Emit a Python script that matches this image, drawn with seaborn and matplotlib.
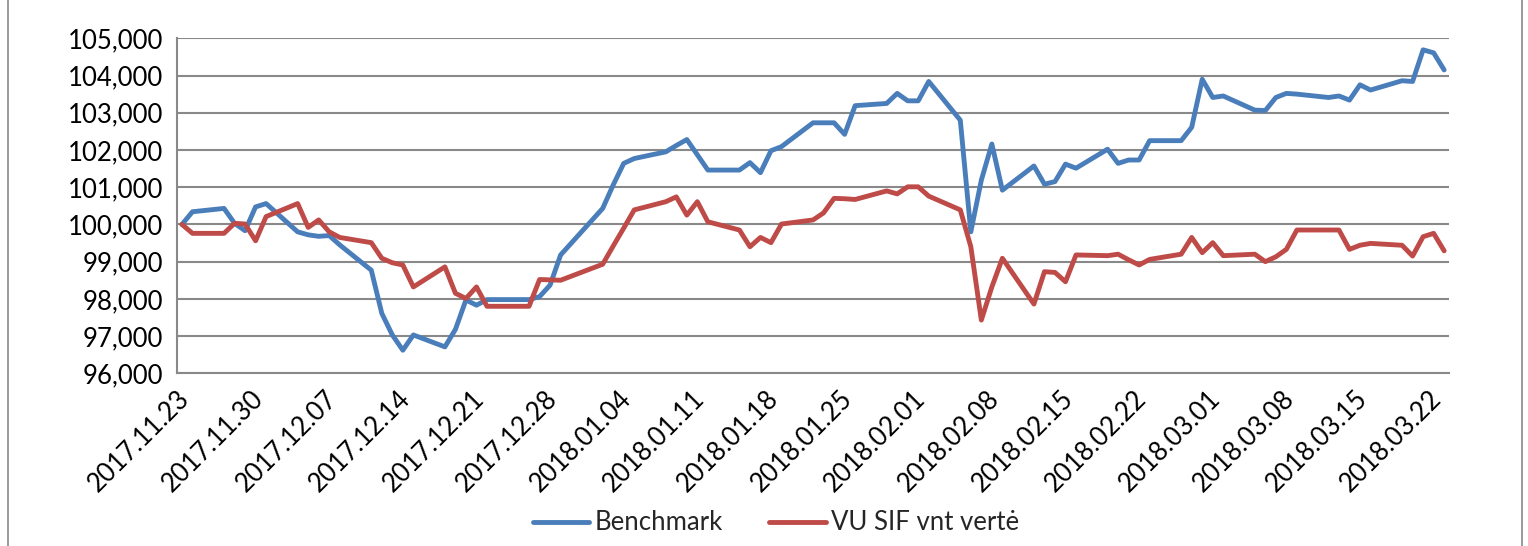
import numpy as np
import pandas as pd
import matplotlib
matplotlib.use("Agg")
import matplotlib.pyplot as plt
import matplotlib.dates as mdates
from matplotlib.ticker import FuncFormatter, FixedLocator
from matplotlib.lines import Line2D
import seaborn as sns

# ---------------- data ----------------
dates = [
    "2017-11-23", "2017-11-24", "2017-11-27", "2017-11-28", "2017-11-29", "2017-11-30",
    "2017-12-01", "2017-12-04", "2017-12-05", "2017-12-06", "2017-12-07", "2017-12-08",
    "2017-12-11", "2017-12-12", "2017-12-13", "2017-12-14", "2017-12-15", "2017-12-18",
    "2017-12-19", "2017-12-20", "2017-12-21", "2017-12-22", "2017-12-26", "2017-12-27",
    "2017-12-28", "2017-12-29", "2018-01-02", "2018-01-03", "2018-01-04", "2018-01-05",
    "2018-01-08", "2018-01-09", "2018-01-10", "2018-01-11", "2018-01-12", "2018-01-15",
    "2018-01-16", "2018-01-17", "2018-01-18", "2018-01-19", "2018-01-22", "2018-01-23",
    "2018-01-24", "2018-01-25", "2018-01-26", "2018-01-29", "2018-01-30", "2018-01-31",
    "2018-02-01", "2018-02-02", "2018-02-05", "2018-02-06", "2018-02-07", "2018-02-08",
    "2018-02-09", "2018-02-12", "2018-02-13", "2018-02-14", "2018-02-15", "2018-02-16",
    "2018-02-19", "2018-02-20", "2018-02-21", "2018-02-22", "2018-02-23", "2018-02-26",
    "2018-02-27", "2018-02-28", "2018-03-01", "2018-03-02", "2018-03-05", "2018-03-06",
    "2018-03-07", "2018-03-08", "2018-03-09", "2018-03-12", "2018-03-13", "2018-03-14",
    "2018-03-15", "2018-03-16", "2018-03-19", "2018-03-20", "2018-03-21", "2018-03-22",
    "2018-03-23",
]

benchmark = [
    100.00, 100.34, 100.43, 100.03, 99.83, 100.47,
    100.56, 99.80, 99.72, 99.68, 99.70, 99.45,
    98.77, 97.61, 97.03, 96.62, 97.03, 96.71,
    97.18, 97.97, 97.83, 97.98, 97.98, 98.06,
    98.37, 99.18, 100.43, 101.06, 101.64, 101.77,
    101.95, 102.12, 102.28, 101.87, 101.46, 101.46,
    101.66, 101.39, 101.98, 102.09, 102.73, 102.73,
    102.73, 102.42, 103.19, 103.25, 103.52, 103.32,
    103.32, 103.84, 102.80, 99.80, 101.19, 102.16,
    100.92, 101.57, 101.08, 101.15, 101.62, 101.51,
    102.02, 101.64, 101.73, 101.73, 102.25, 102.25,
    102.61, 103.90, 103.41, 103.45, 103.07, 103.06,
    103.41, 103.52, 103.50, 103.41, 103.45, 103.34,
    103.75, 103.61, 103.86, 103.84, 104.69, 104.61,
    104.15,
]

vu_sif = [
    100.00, 99.76, 99.76, 100.03, 100.01, 99.56,
    100.21, 100.56, 99.92, 100.12, 99.80, 99.65,
    99.51, 99.09, 98.97, 98.91, 98.32, 98.86,
    98.15, 98.01, 98.32, 97.80, 97.80, 98.52,
    98.51, 98.50, 98.93, 99.42, 99.90, 100.39,
    100.61, 100.74, 100.25, 100.61, 100.07, 99.85,
    99.40, 99.65, 99.51, 100.01, 100.12, 100.31,
    100.70, 100.69, 100.67, 100.90, 100.82, 101.01,
    101.01, 100.76, 100.39, 99.40, 97.43, 98.32,
    99.09, 97.86, 98.73, 98.71, 98.46, 99.18,
    99.16, 99.20, 99.05, 98.91, 99.06, 99.20,
    99.65, 99.24, 99.51, 99.16, 99.20, 99.00,
    99.13, 99.33, 99.85, 99.85, 99.85, 99.33,
    99.44, 99.49, 99.44, 99.15, 99.67, 99.76,
    99.29,
]

series_names = ["Benchmark", "VU SIF vnt vertė"]
series_colors = ["#4A7EBB", "#BE4B48"]
tick_dates = pd.date_range("2017-11-23", "2018-03-22", freq="7D")
y_ticks = [96, 97, 98, 99, 100, 101, 102, 103, 104, 105]

# ---------------- figure ----------------
W, H, DPI = 1528, 546, 100
sns.set_style("white")
FONT = ["Lato", "DejaVu Sans"]
plt.rcParams["font.family"] = FONT
FS = 18.5
LW = 3.5

fig = plt.figure(figsize=(W / DPI, H / DPI), dpi=DPI)
ax = fig.add_axes([176.7 / W, 1 - 373.3 / H, (1449.4 - 176.7) / W, (373.3 - 38.3) / H])

x = pd.to_datetime(dates)
df = pd.DataFrame({"date": x, series_names[0]: benchmark, series_names[1]: vu_sif})
for name, col in zip(series_names, series_colors):
    sns.lineplot(data=df, x="date", y=name, ax=ax, color=col, linewidth=LW,
                 solid_joinstyle="round", solid_capstyle="round", legend=False)

half = pd.Timedelta(hours=12)
ax.set_xlim(x[0] - half, x[-1] + half)
ax.set_ylim(96, 105)

ax.xaxis.set_major_locator(FixedLocator(mdates.date2num(tick_dates - half)))
ax.set_xticklabels([d.strftime("%Y.%m.%d") for d in tick_dates], rotation=45,
                   ha="right", va="top", rotation_mode="anchor", fontsize=FS)
ax.set_yticks(y_ticks)
ax.yaxis.set_major_formatter(FuncFormatter(lambda v, p: f"{v:,.3f}".replace(".", ",")))
for lab in ax.get_yticklabels():
    lab.set_fontsize(FS)

ax.set_xlabel("")
ax.set_ylabel("")
ax.grid(axis="y", color="#898989", linewidth=1.5)
ax.grid(axis="x", visible=False)
ax.set_axisbelow(True)
for s in ["top", "right"]:
    ax.spines[s].set_visible(False)
for s in ["left", "bottom"]:
    ax.spines[s].set_color("#898989")
    ax.spines[s].set_linewidth(1.5)
ax.tick_params(axis="both", direction="out", length=5, width=1.5, color="#898989",
               labelcolor="black")
ax.tick_params(axis="y", pad=5)
ax.tick_params(axis="x", pad=4)

handles = [Line2D([0], [0], color=c, linewidth=LW) for c in series_colors]
fig.legend(handles, series_names, loc="center", bbox_to_anchor=(776 / W, 23 / H),
           ncol=2, frameon=False, fontsize=FS, handlelength=2.2, handletextpad=0.2,
           columnspacing=1.8)

# outer chart border (left and right edges visible)
fig.add_artist(Line2D([7.5 / W, 7.5 / W], [0, 1], color="#898989", linewidth=1.2))
fig.add_artist(Line2D([1521.5 / W, 1521.5 / W], [0, 1], color="#898989", linewidth=1.2))

fig.savefig("out.png", dpi=DPI)
